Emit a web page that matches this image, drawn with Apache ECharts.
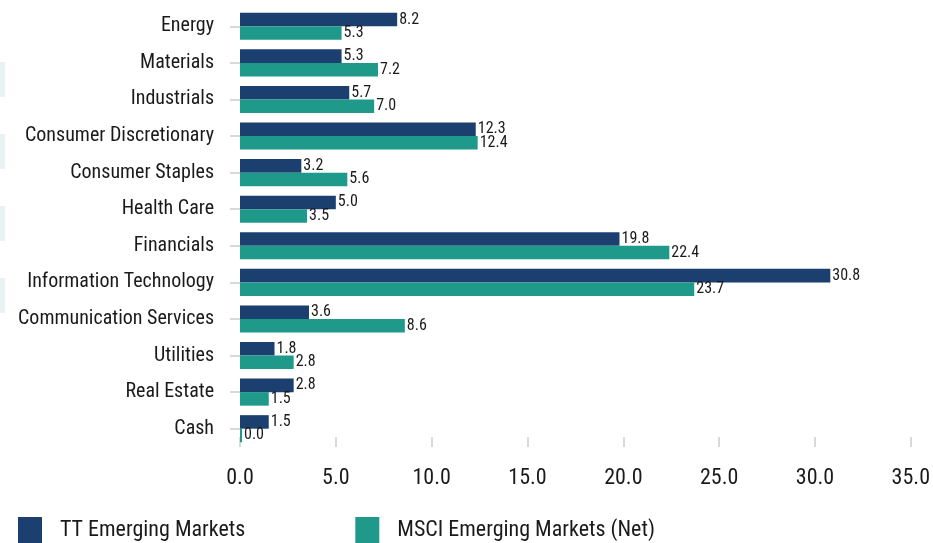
<!DOCTYPE html>
<html>
<head>
<meta charset="utf-8">
<script src="https://cdn.jsdelivr.net/npm/echarts@6/dist/echarts.min.js"></script>
<style>
html,body{margin:0;padding:0;background:#fff;}
#chart{width:933px;height:543px;}
</style>
</head>
<body>
<div id="chart"></div>
<script>
const categories = ["Energy","Materials","Industrials","Consumer Discretionary","Consumer Staples","Health Care","Financials","Information Technology","Communication Services","Utilities","Real Estate","Cash"];
const ttEM = [8.2,5.3,5.7,12.3,3.2,5.0,19.8,30.8,3.6,1.8,2.8,1.5];
const msciEM = [5.3,7.2,7.0,12.4,5.6,3.5,22.4,23.7,8.6,2.8,1.5,0.0];
const seriesNames = ["TT Emerging Markets","MSCI Emerging Markets (Net)"];

const FONT = "'Liberation Sans Narrow','Arial Narrow','Roboto Condensed','Liberation Sans',Arial,sans-serif";
const chart = echarts.init(document.getElementById('chart'));
chart.setOption({
  animation:false,
  textStyle:{fontFamily:FONT},
  graphic:[
    {type:'rect',shape:{x:0,y:62,width:5,height:35},style:{fill:'#e8f2f5'}},
    {type:'rect',shape:{x:0,y:134,width:5,height:35},style:{fill:'#e8f2f5'}},
    {type:'rect',shape:{x:0,y:206,width:5,height:35},style:{fill:'#e8f2f5'}},
    {type:'rect',shape:{x:0,y:278,width:5,height:35},style:{fill:'#e8f2f5'}}
  ],
  grid:{left:240,right:20,top:8,bottom:96,containLabel:false},
  legend:{
    left:18, top:517, padding:0, itemWidth:24, itemHeight:26, itemGap:110, icon:'rect',
    textStyle:{fontFamily:FONT,fontSize:22,color:'#1a1a1a',padding:[0,0,0,13]},
    data:seriesNames
  },
  xAxis:{
    type:'value',min:0,max:35,interval:5,
    axisLine:{show:false},
    splitLine:{show:false},
    axisTick:{show:true,inside:true,length:10,lineStyle:{color:'#d9d9d9',width:2}},
    axisLabel:{margin:20,fontSize:22,color:'#1a1a1a',fontFamily:FONT,formatter:v=>v.toFixed(1)}
  },
  yAxis:{
    type:'category',data:categories,inverse:true,
    axisLine:{show:false},
    axisTick:{show:true,alignWithLabel:true,length:10,lineStyle:{color:'#d9d9d9',width:2}},
    axisLabel:{margin:26,fontSize:20,color:'#1a1a1a',fontFamily:FONT}
  },
  series:[
    {name:seriesNames[0],type:'bar',data:ttEM,barGap:'0%',barCategoryGap:'26%',
     itemStyle:{color:'#1b3f6f'},
     label:{show:true,position:'right',distance:2,fontSize:16,color:'#1a1a1a',fontFamily:FONT,formatter:p=>p.value.toFixed(1)}},
    {name:seriesNames[1],type:'bar',data:msciEM,barGap:'0%',barCategoryGap:'26%',barMinHeight:2,
     itemStyle:{color:'#1f9a8a'},
     label:{show:true,position:'right',distance:2,fontSize:16,color:'#1a1a1a',fontFamily:FONT,formatter:p=>p.value.toFixed(1)}}
  ]
});
</script>
</body>
</html>
